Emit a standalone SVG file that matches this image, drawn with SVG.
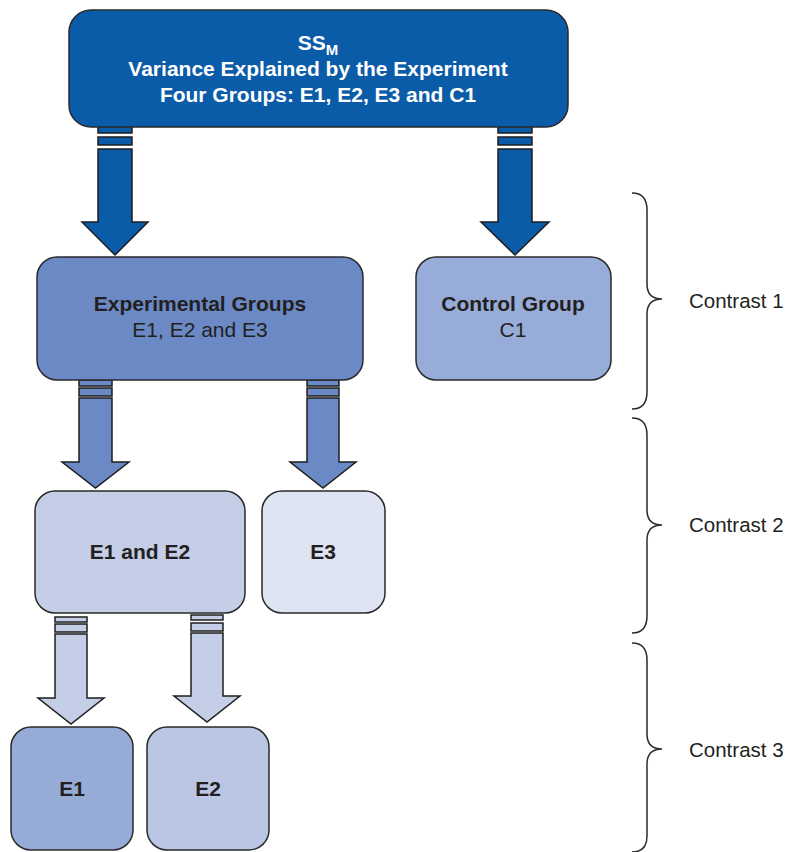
<svg xmlns="http://www.w3.org/2000/svg" width="789" height="852" viewBox="0 0 789 852">
<style>
.box{stroke:#2a2a2a;stroke-width:1.5}
.arr{stroke:#1e1e1e;stroke-width:1.5;stroke-linejoin:miter}
.brace{fill:none;stroke:#2a2a2a;stroke-width:1.5}
text{font-family:"Liberation Sans",Arial,sans-serif;font-size:21px;text-anchor:middle;fill:#231f20}
.b{font-weight:bold}
.w{fill:#ffffff;font-weight:bold}
.lab{text-anchor:start;font-size:20.5px}
.c1{fill:#0a5ba8}
.c2{fill:#6a89c5}
.c3{fill:#c4cee7}
</style>
<g id="connectors">
  <!-- level 1 -->
  <g class="arr c1">
    <rect x="98" y="126" width="34" height="7"/>
    <rect x="98" y="137" width="34" height="8"/>
    <polygon points="98,149 132,149 132,222 148,222 115,255 82,222 98,222"/>
    <rect x="498" y="126" width="34" height="7"/>
    <rect x="498" y="137" width="34" height="8"/>
    <polygon points="498,149 532,149 532,222 549,222 515,255 481,222 498,222"/>
  </g>
  <!-- level 2 -->
  <g class="arr c2">
    <rect x="79" y="380" width="33" height="6"/>
    <rect x="79" y="388" width="33" height="8"/>
    <polygon points="79,398 112,398 112,462 129,462 95.5,488 62,462 79,462"/>
    <rect x="307" y="380" width="32" height="6"/>
    <rect x="307" y="388" width="32" height="8"/>
    <polygon points="307,398 339,398 339,462 356,462 323,488 290,462 307,462"/>
  </g>
  <!-- level 3 -->
  <g class="arr c3">
    <rect x="55" y="617" width="32" height="5"/>
    <rect x="55" y="624" width="32" height="8"/>
    <polygon points="55,634 87,634 87,698 104,698 71,724 38,698 55,698"/>
    <rect x="191" y="615" width="32" height="5"/>
    <rect x="191" y="623" width="32" height="8"/>
    <polygon points="191,633 223,633 223,696 240,696 207,722 174,696 191,696"/>
  </g>
</g>
<g id="node-ssm">
  <rect class="box" x="69" y="10" width="499" height="117" rx="22" fill="#0a5ba8"/>
  <text x="318" y="50" class="w">SS<tspan font-size="15" dy="5">M</tspan></text>
  <text x="318" y="76" class="w">Variance Explained by the Experiment</text>
  <text x="318" y="102" class="w">Four Groups: E1, E2, E3 and C1</text>
</g>
<g id="node-experimental">
  <rect class="box" x="37" y="257" width="326" height="123" rx="20" fill="#6a89c5"/>
  <text x="200" y="311" class="b">Experimental Groups</text>
  <text x="200" y="337">E1, E2 and E3</text>
</g>
<g id="node-control">
  <rect class="box" x="416" y="257" width="195" height="123" rx="20" fill="#98acd9"/>
  <text x="513" y="311" class="b">Control Group</text>
  <text x="513" y="337">C1</text>
</g>
<g id="node-e1e2">
  <rect class="box" x="35" y="491" width="210" height="122" rx="20" fill="#c4cee7"/>
  <text x="140" y="559" class="b">E1 and E2</text>
</g>
<g id="node-e3">
  <rect class="box" x="262" y="491" width="123" height="122" rx="20" fill="#dfe4f2"/>
  <text x="323" y="559" class="b">E3</text>
</g>
<g id="node-e1">
  <rect class="box" x="11" y="727" width="122" height="123" rx="20" fill="#97abd7"/>
  <text x="72" y="796" class="b">E1</text>
</g>
<g id="node-e2">
  <rect class="box" x="147" y="727" width="122" height="123" rx="20" fill="#bbc6e4"/>
  <text x="208" y="796" class="b">E2</text>
</g>
<g id="contrast1">
  <path class="brace" d="M632,193 Q647,193 647,210 L647,284 Q647,299 662,299 Q647,299 647,314 L647,392 Q647,409 632,409"/>
  <text x="689" y="308" class="lab">Contrast 1</text>
</g>
<g id="contrast2">
  <path class="brace" d="M632,418 Q647,418 647,435 L647,510 Q647,525 662,525 Q647,525 647,540 L647,616 Q647,633 632,633"/>
  <text x="689" y="532" class="lab">Contrast 2</text>
</g>
<g id="contrast3">
  <path class="brace" d="M632,643 Q647,643 647,660 L647,734 Q647,749 662,749 Q647,749 647,764 L647,836 Q647,852 632,852"/>
  <text x="689" y="757" class="lab">Contrast 3</text>
</g>
</svg>
